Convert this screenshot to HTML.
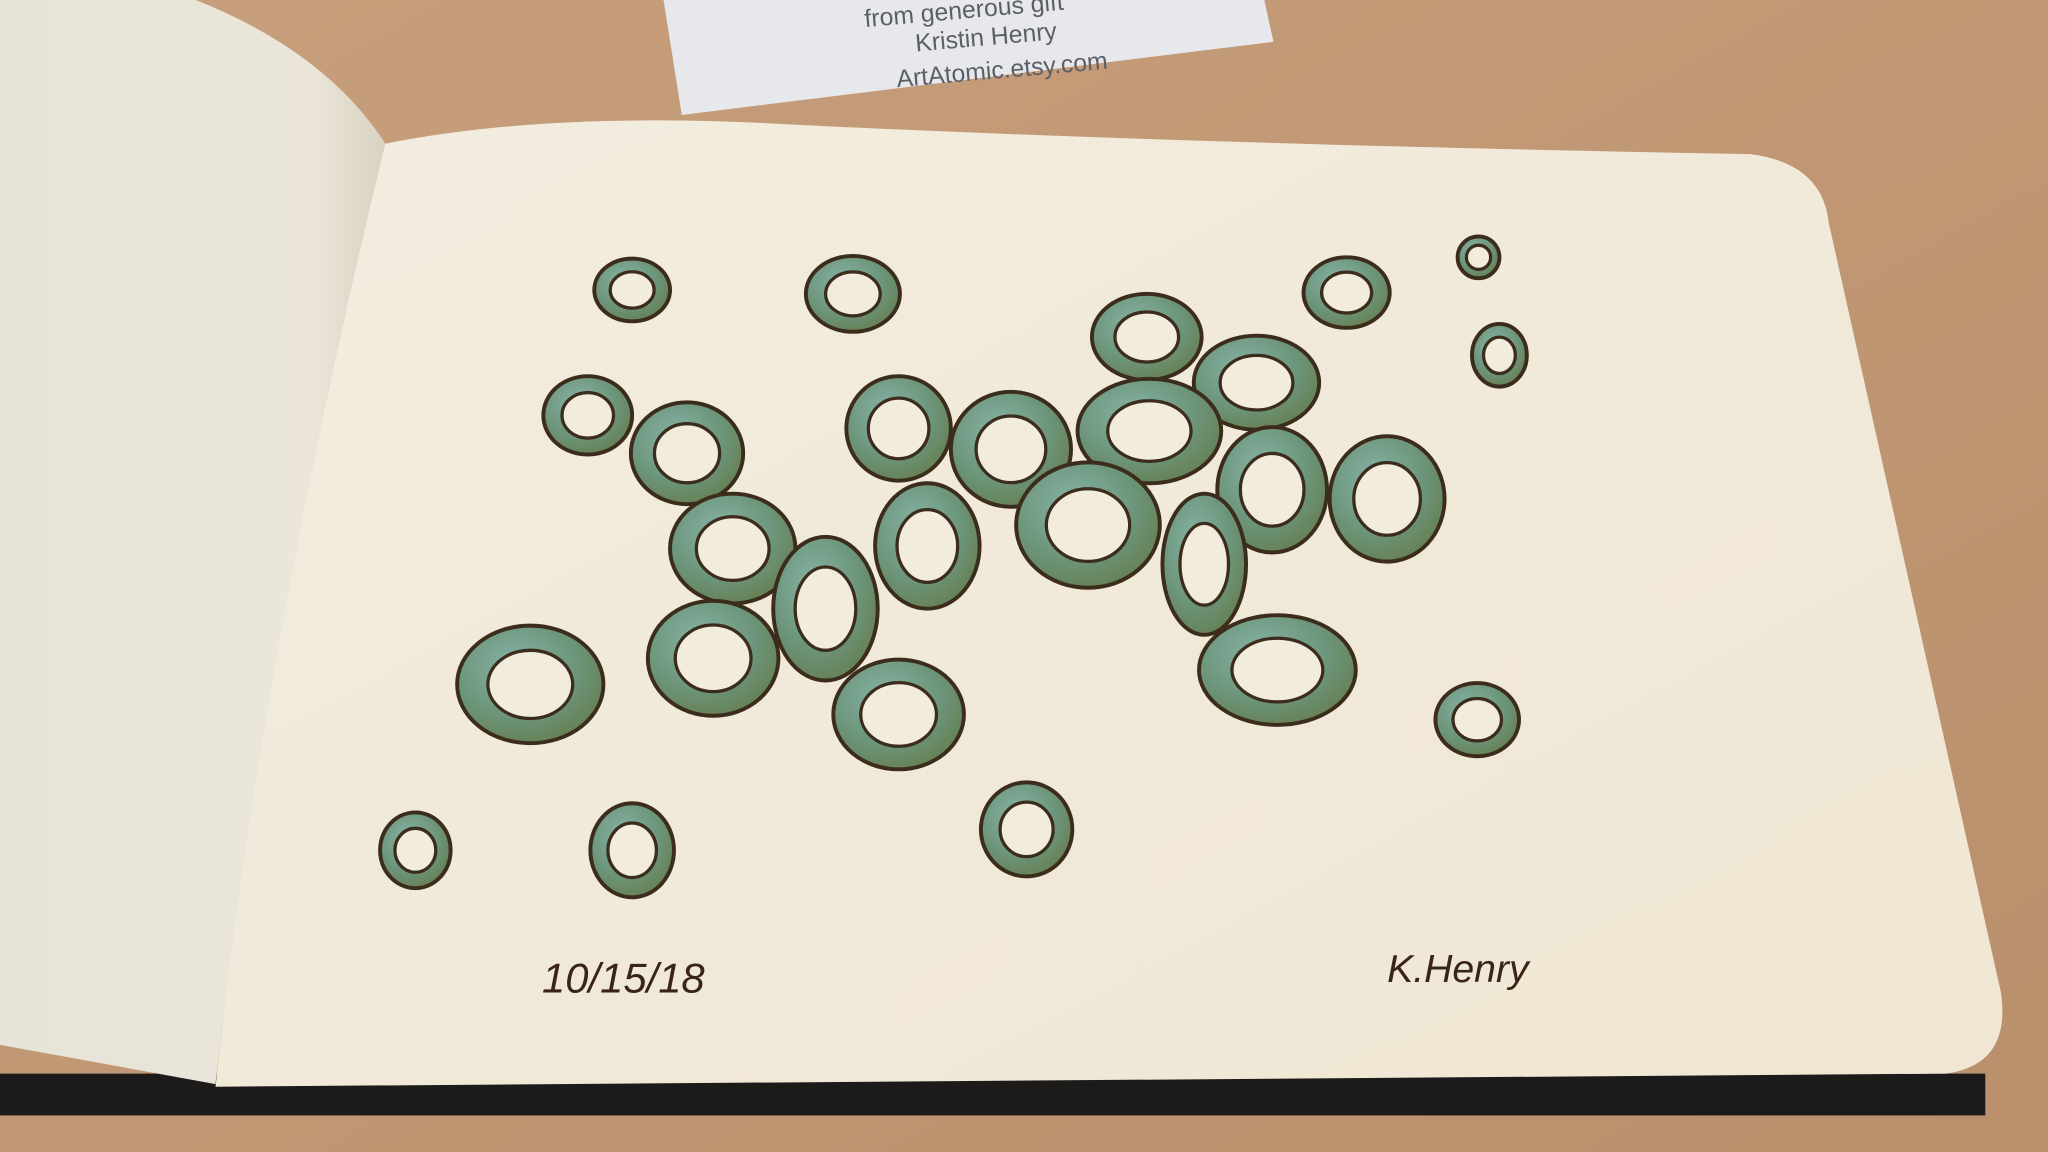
<!DOCTYPE html>
<html><head><meta charset="utf-8"><style>
html,body{margin:0;padding:0;width:2048px;height:1152px;overflow:hidden;background:#c49a76}
svg{display:block}
</style></head><body>
<svg width="2048" height="1152" viewBox="0 0 1568 882" preserveAspectRatio="none" xmlns="http://www.w3.org/2000/svg">
<defs>
<linearGradient id="wood" x1="0" y1="0" x2="1" y2="1"><stop offset="0" stop-color="#c89f7c"/><stop offset="1" stop-color="#b98f6c"/></linearGradient>
<linearGradient id="leftpage" x1="0" y1="0" x2="1" y2="0"><stop offset="0" stop-color="#e6e3d8"/><stop offset="0.8" stop-color="#ebe6d9"/><stop offset="1" stop-color="#d9d2c2"/></linearGradient>
<linearGradient id="rightpage" x1="0" y1="0" x2="1" y2="1"><stop offset="0" stop-color="#f2eddf"/><stop offset="1" stop-color="#f0e6d3"/></linearGradient>
<radialGradient id="ink" cx="0.4" cy="0.35" r="0.7"><stop offset="0" stop-color="#88b4a8"/><stop offset="0.6" stop-color="#6c957a"/><stop offset="1" stop-color="#667f52"/></radialGradient>
</defs>
<rect width="1568" height="882" fill="url(#wood)"/>
<g>
<polygon points="508,0 968,0 975,32 522,88" fill="#e6e8ec"/>
<g transform="rotate(-5 740 30)" font-family="Liberation Sans, sans-serif" fill="#5d5f66" font-size="19" text-anchor="middle">
<text x="740" y="14">from generous gift</text>
<text x="755" y="36">Kristin Henry</text>
<text x="765" y="62">ArtAtomic.etsy.com</text>
</g>
</g>
<rect x="0" y="822" width="1520" height="32" fill="#1c1b1a"/>
<path d="M0,0 L150,0 Q250,40 295,110 L245,380 Q190,600 165,830 L0,800 Z" fill="url(#leftpage)"/>
<path d="M295,110 Q420,85 600,95 Q900,110 1340,118 Q1395,125 1400,170 L1532,760 Q1540,815 1490,822 L165,832 Q200,500 295,110 Z" fill="url(#rightpage)"/>
<g id="rings"></g>
<text x="415" y="760" font-family="Liberation Sans, sans-serif" font-size="32" fill="#3a2418" font-style="italic">10/15/18</text>
<text x="1062" y="752" font-family="Liberation Sans, sans-serif" font-size="30" fill="#3a2418" font-style="italic">K.Henry</text>
</svg>
<script>
const ringX=[484,653,1132,1031,1148,878,962,450,526,688,774,880,974,1062,561,710,833,922,632,546,406,978,688,1131,786,318,484];
const ringY=[222,225,197,224,272,258,293,318,347,328,344,330,375,382,420,418,402,432,466,504,524,513,547,551,635,651,651];
const ringRX=[29,36,16,33,21,42,48,34,43,40,46,55,42,44,48,40,55,32,40,50,56,60,50,32,35,27,32];
const ringRY=[24,29,16,27,24,33,36,30,39,40,44,40,48,48,42,48,48,54,55,44,45,42,42,28,36,29,36];
const g=document.getElementById('rings');
const NS='http://www.w3.org/2000/svg';
for(let i=0;i<ringX.length;i++){
  const o=document.createElementNS(NS,'ellipse');
  
  
  o.setAttribute('cx',ringX[i]);o.setAttribute('cy',ringY[i]);
  o.setAttribute('rx',ringRX[i]);o.setAttribute('ry',ringRY[i]);
  o.setAttribute('fill','url(#ink)');o.setAttribute('stroke','#3b2c1c');o.setAttribute('stroke-width','3');
  g.appendChild(o);
  const h=document.createElementNS(NS,'ellipse');
  
  
  h.setAttribute('cx',ringX[i]);h.setAttribute('cy',ringY[i]);
  h.setAttribute('rx',ringRX[i]*0.58);h.setAttribute('ry',ringRY[i]*0.58);
  h.setAttribute('fill','#f2ecdd');h.setAttribute('stroke','#3b2c1c');h.setAttribute('stroke-width','2.5');
  g.appendChild(h);
}
</script>
</body></html>
